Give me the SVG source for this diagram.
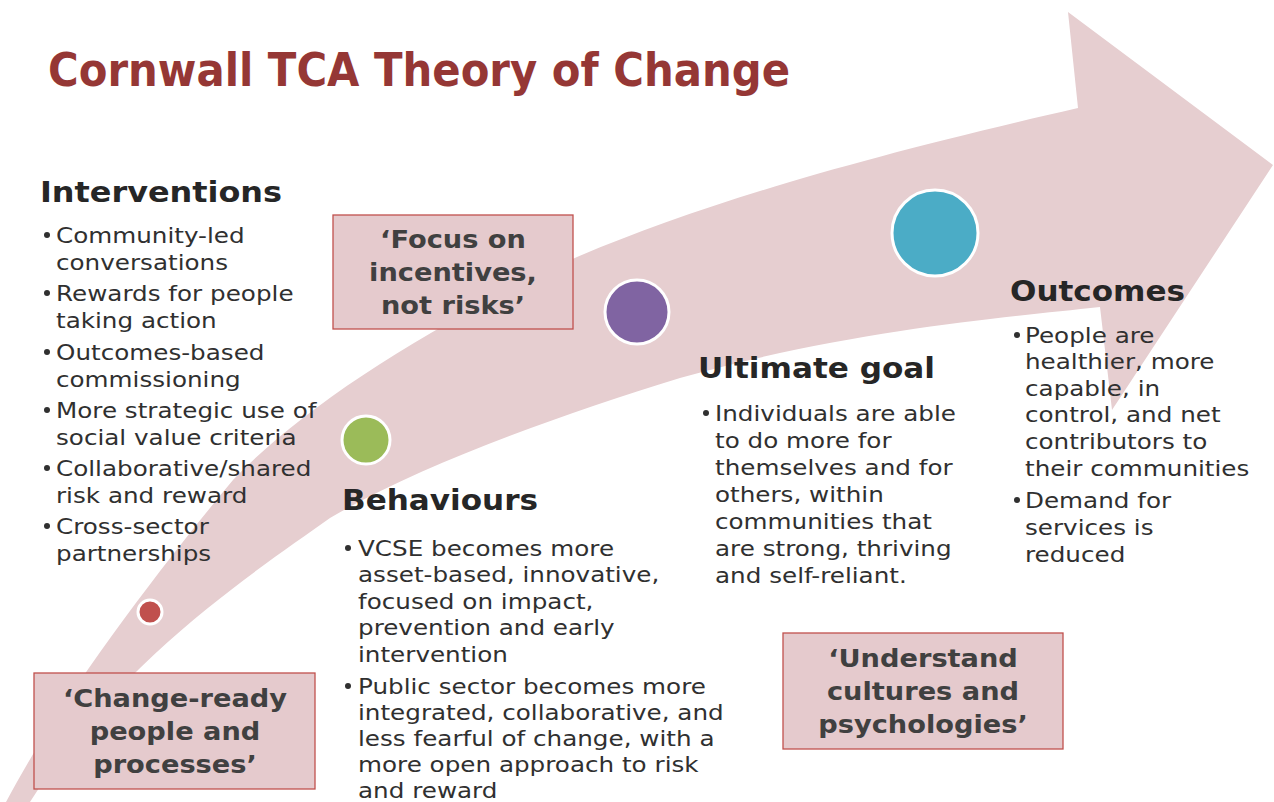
<svg xmlns="http://www.w3.org/2000/svg" width="1274" height="802" viewBox="0 0 1274 802">
<style>
.title{font-family:"DejaVu Sans","Verdana",sans-serif;font-weight:bold;font-size:47px;fill:#953735}
.head{font-family:"DejaVu Sans","Verdana",sans-serif;font-weight:bold;font-size:28px;fill:#262626}
.body{font-family:"DejaVu Sans","Verdana",sans-serif;font-size:22px;fill:#303030}
.quote{font-family:"DejaVu Sans","Verdana",sans-serif;font-weight:bold;font-size:25px;fill:#404040;text-anchor:middle}
.box{fill:#E5CACD;stroke:#C0504D;stroke-width:1.3}
.dot{stroke:#FFFFFF;stroke-width:3}
.bullet{fill:#303030}
</style>
<rect width="1274" height="802" fill="#FFFFFF"/>
<g id="arrow">
<path fill="#E6CED0" d="M 6 802 C 60 700, 150 580, 233 480 C 300 410, 420 330, 577 257 C 700 205, 850 160, 1078 108 L 1068 12 L 1273 165 L 1112 410 L 1100 307 C 1000 318, 850 330, 680 378 C 560 415, 420 465, 330 518 C 250 575, 120 660, 30 802 Z"/>
</g>
<g id="title">
<text class="title" x="48" y="86" textLength="742" lengthAdjust="spacingAndGlyphs">Cornwall TCA Theory of Change</text>
</g>
<g id="circle-red"><circle class="dot" cx="150" cy="612" r="12" fill="#C0504D"/></g>
<g id="circle-green"><circle class="dot" cx="366" cy="440" r="24" fill="#9BBB59"/></g>
<g id="circle-purple"><circle class="dot" cx="637" cy="312" r="32" fill="#8064A2"/></g>
<g id="circle-teal"><circle class="dot" cx="935" cy="233" r="43" fill="#4BACC6"/></g>
<g id="box-focus">
<rect class="box" x="333" y="215" width="240" height="114"/>
<g transform="translate(453 0) scale(1.09 1)">
<text class="quote" x="0" y="248">‘Focus on</text>
<text class="quote" x="0" y="281">incentives,</text>
<text class="quote" x="0" y="314">not risks’</text>
</g>
</g>
<g id="box-change-ready">
<rect class="box" x="34" y="673" width="281" height="116"/>
<g transform="translate(175 0) scale(1.09 1)">
<text class="quote" x="0" y="707">‘Change-ready</text>
<text class="quote" x="0" y="740">people and</text>
<text class="quote" x="0" y="773">processes’</text>
</g>
</g>
<g id="box-understand">
<rect class="box" x="783" y="633" width="280" height="116"/>
<g transform="translate(923 0) scale(1.09 1)">
<text class="quote" x="0" y="667">‘Understand</text>
<text class="quote" x="0" y="700">cultures and</text>
<text class="quote" x="0" y="733">psychologies’</text>
</g>
</g>
<g id="interventions">
<text class="head" x="40" y="202" textLength="242" lengthAdjust="spacingAndGlyphs">Interventions</text>
<circle class="bullet" cx="47" cy="235" r="3"/>
<circle class="bullet" cx="47" cy="293" r="3"/>
<circle class="bullet" cx="47" cy="352" r="3"/>
<circle class="bullet" cx="47" cy="410" r="3"/>
<circle class="bullet" cx="47" cy="468" r="3"/>
<circle class="bullet" cx="47" cy="526" r="3"/>
<g transform="translate(56 0) scale(1.12 1)">
<text class="body" x="0" y="243">Community-led</text>
<text class="body" x="0" y="270">conversations</text>
<text class="body" x="0" y="301">Rewards for people</text>
<text class="body" x="0" y="328">taking action</text>
<text class="body" x="0" y="360">Outcomes-based</text>
<text class="body" x="0" y="387">commissioning</text>
<text class="body" x="0" y="418">More strategic use of</text>
<text class="body" x="0" y="445">social value criteria</text>
<text class="body" x="0" y="476">Collaborative/shared</text>
<text class="body" x="0" y="503">risk and reward</text>
<text class="body" x="0" y="534">Cross-sector</text>
<text class="body" x="0" y="561">partnerships</text>
</g>
</g>
<g id="behaviours">
<text class="head" x="342" y="510" textLength="196" lengthAdjust="spacingAndGlyphs">Behaviours</text>
<circle class="bullet" cx="348" cy="548" r="3"/>
<circle class="bullet" cx="348" cy="686" r="3"/>
<g transform="translate(358 0) scale(1.12 1)">
<text class="body" x="0" y="556">VCSE becomes more</text>
<text class="body" x="0" y="582">asset-based, innovative,</text>
<text class="body" x="0" y="609">focused on impact,</text>
<text class="body" x="0" y="635">prevention and early</text>
<text class="body" x="0" y="662">intervention</text>
<text class="body" x="0" y="694">Public sector becomes more</text>
<text class="body" x="0" y="720">integrated, collaborative, and</text>
<text class="body" x="0" y="746">less fearful of change, with a</text>
<text class="body" x="0" y="772">more open approach to risk</text>
<text class="body" x="0" y="798">and reward</text>
</g>
</g>
<g id="ultimate-goal">
<text class="head" x="698" y="378" textLength="237" lengthAdjust="spacingAndGlyphs">Ultimate goal</text>
<circle class="bullet" cx="706" cy="413" r="3"/>
<g transform="translate(715 0) scale(1.12 1)">
<text class="body" x="0" y="421">Individuals are able</text>
<text class="body" x="0" y="448">to do more for</text>
<text class="body" x="0" y="475">themselves and for</text>
<text class="body" x="0" y="502">others, within</text>
<text class="body" x="0" y="529">communities that</text>
<text class="body" x="0" y="556">are strong, thriving</text>
<text class="body" x="0" y="583">and self-reliant.</text>
</g>
</g>
<g id="outcomes">
<text class="head" x="1010" y="301" textLength="175" lengthAdjust="spacingAndGlyphs">Outcomes</text>
<circle class="bullet" cx="1017" cy="335" r="3"/>
<circle class="bullet" cx="1017" cy="500" r="3"/>
<g transform="translate(1025 0) scale(1.12 1)">
<text class="body" x="0" y="343">People are</text>
<text class="body" x="0" y="369">healthier, more</text>
<text class="body" x="0" y="396">capable, in</text>
<text class="body" x="0" y="422">control, and net</text>
<text class="body" x="0" y="449">contributors to</text>
<text class="body" x="0" y="476">their communities</text>
<text class="body" x="0" y="508">Demand for</text>
<text class="body" x="0" y="535">services is</text>
<text class="body" x="0" y="562">reduced</text>
</g>
</g>
</svg>
